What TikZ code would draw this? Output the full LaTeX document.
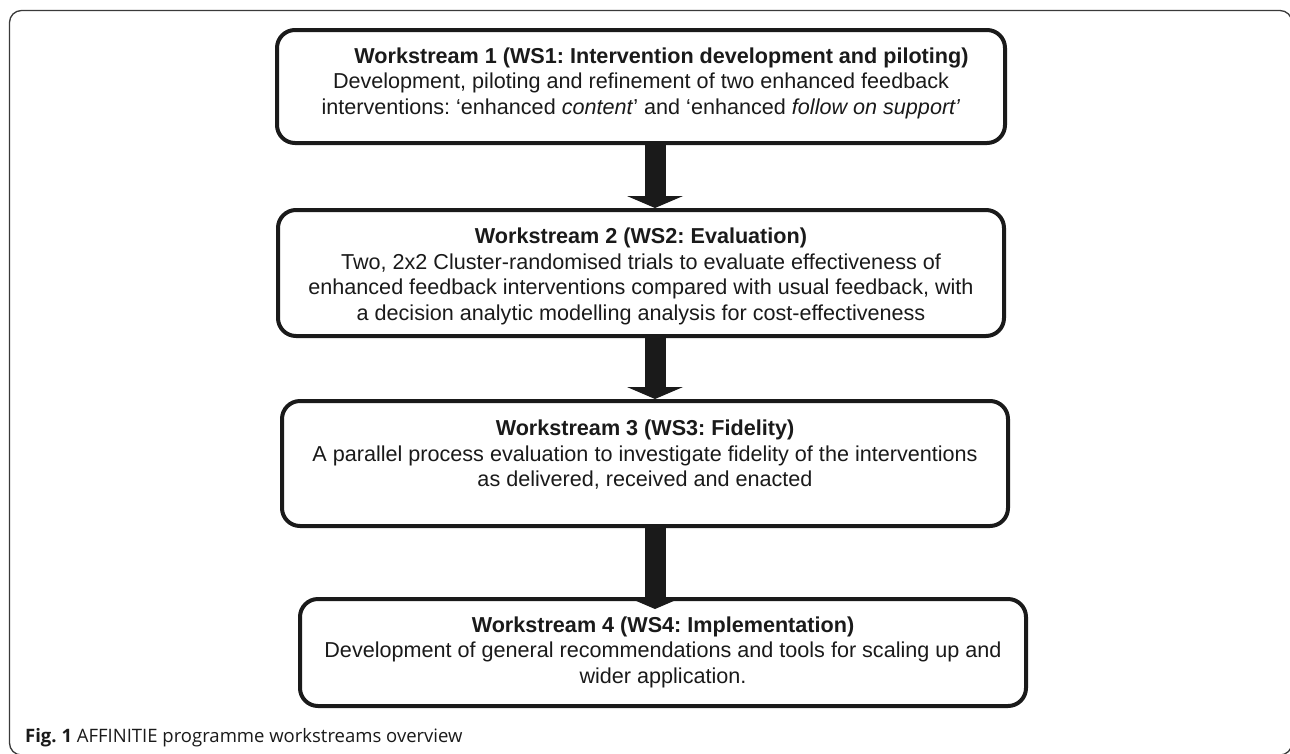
\documentclass[tikz,border=0pt]{standalone}
\usepackage{fontspec}
\setmainfont{Liberation Sans}
\newfontfamily\capfont{Open Sans}
\usetikzlibrary{arrows.meta}
\frenchspacing
\definecolor{ink}{HTML}{1A1A1A}
\definecolor{framegray}{HTML}{3A3A3A}
\tikzset{
  wsbox/.style={draw=ink, line width=4pt, rounded corners=18pt, inner sep=0pt},
  wstext/.style={text=ink, font=\fontsize{21.6}{25.5}\selectfont, align=center, inner sep=0pt},
  flow/.style={draw=ink, line width=21pt, -{Triangle[width=56pt,length=12pt,line width=0pt]}},
}
\begin{document}
\begin{tikzpicture}[x=1pt,y=-1pt]
\useasboundingbox (0,0) rectangle (1290,753);
\fill[white] (0,0) rectangle (1290,753);
% outer frame
\draw[framegray, line width=1.3pt, rounded corners=12pt] (9.5,10.5) rectangle (1292,755);

% boxes
\node[wsbox, minimum width=728pt, minimum height=113pt] (b1) at (641,86.5) {};
\node[wsbox, minimum width=726pt, minimum height=126pt] (b2) at (641,273) {};
\node[wsbox, minimum width=726pt, minimum height=125pt] (b3) at (645,463.5) {};
\node[wsbox, minimum width=726pt, minimum height=107pt] (b4) at (663,652.5) {};

% texts
\node[wstext] (t1) at (641,83) {\hspace*{41pt}\textbf{Workstream 1 (WS1: Intervention development and piloting)}\\
Development, piloting and refinement of two enhanced feedback\\
interventions: `enhanced \textit{content}' and `enhanced \textit{follow on support'}};
\node[wstext] (t2) at (641,276.5) {\textbf{Workstream 2 (WS2: Evaluation)}\\
Two, 2x2 Cluster-randomised trials to evaluate effectiveness of\\
enhanced feedback interventions compared with usual feedback, with\\
a decision analytic modelling analysis for cost-effectiveness};
\node[wstext] (t3) at (645,455) {\textbf{Workstream 3 (WS3: Fidelity)}\\
A parallel process evaluation to investigate fidelity of the interventions\\
as delivered, received and enacted};
\node[wstext] (t4) at (663,652) {\textbf{Workstream 4 (WS4: Implementation)}\\
Development of general recommendations and tools for scaling up and\\
wider application.};

% arrows
\coordinate (ax) at (655,0);
\draw[flow] (b1.south -| ax) -- (b2.north -| ax);
\draw[flow] (b2.south -| ax) -- (b3.north -| ax);
\draw[flow] (b3.south -| ax) -- ([yshift=-12pt]b4.north -| ax);

% caption
\node[anchor=base west, inner sep=0pt, text=ink, font=\capfont\fontsize{18.5}{22}\selectfont] (cap) at (25,742) {\textbf{Fig. 1} AFFINITIE programme workstreams overview};
\end{tikzpicture}
\end{document}
